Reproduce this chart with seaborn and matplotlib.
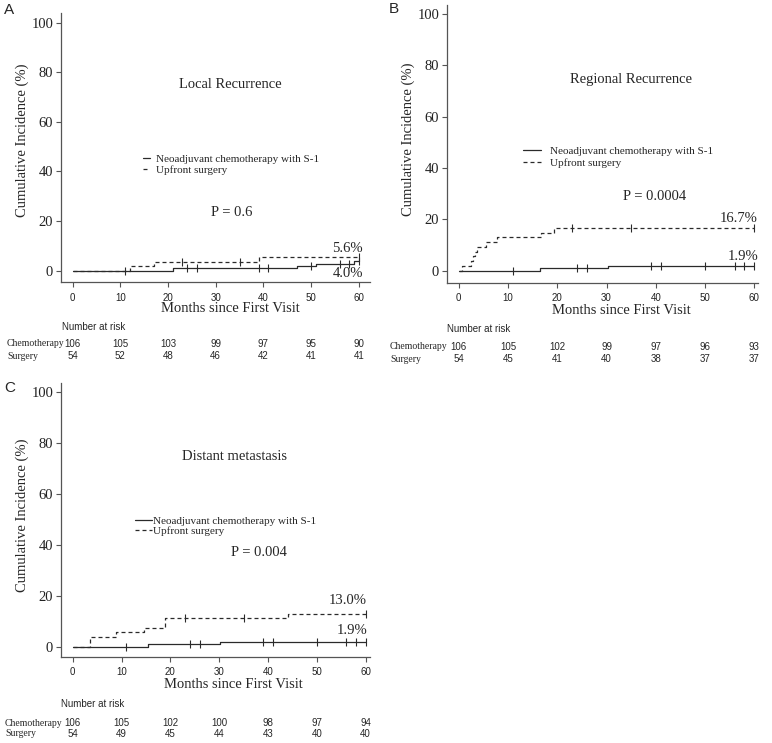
import numpy as np
import matplotlib
matplotlib.use("Agg")
import matplotlib.pyplot as plt
import matplotlib.transforms as mtransforms
from matplotlib.lines import Line2D
import seaborn as sns

# ---- data ----
month_ticks = [0, 10, 20, 30, 40, 50, 60]
pct_ticks = [0, 20, 40, 60, 80, 100]
risk_months = [0, 10, 20, 30, 40, 50, 60]

chemo_censor = [11, 24, 26, 39, 41, 50, 56, 58, 60]
surg_censor = [23, 35, 60]

# A: local recurrence
a_chemo_t = [0, 21, 47, 51, 59, 60]
a_chemo_y = [0, 0.9, 1.9, 2.9, 4.0, 4.0]
a_surg_t = [0, 12, 17, 39, 60]
a_surg_y = [0, 1.9, 3.7, 5.6, 5.6]
a_risk_chemo = [106, 105, 103, 99, 97, 95, 90]
a_risk_surg = [54, 52, 48, 46, 42, 41, 41]

# B: regional recurrence
b_chemo_t = [0, 16.6, 30.3, 60]
b_chemo_y = [0, 0.94, 1.9, 1.9]
b_surg_t = [0, 0.6, 2.5, 3.0, 3.4, 3.8, 5.5, 7.8, 16.8, 19.4, 60]
b_surg_y = [0, 1.9, 3.7, 5.6, 7.4, 9.3, 11.1, 13.0, 14.8, 16.7, 16.7]
b_risk_chemo = [106, 105, 102, 99, 97, 96, 93]
b_risk_surg = [54, 45, 41, 40, 38, 37, 37]

# C: distant metastasis
c_chemo_t = [0, 15.4, 30.2, 60]
c_chemo_y = [0, 0.94, 1.9, 1.9]
c_surg_t = [0, 3.6, 8.9, 14.7, 18.9, 44.1, 60]
c_surg_y = [0, 3.7, 5.6, 7.4, 11.1, 13.0, 13.0]
c_risk_chemo = [106, 105, 102, 100, 98, 97, 94]
c_risk_surg = [54, 49, 45, 44, 43, 40, 40]

legend_labels = ["Neoadjuvant chemotherapy with S-1", "Upfront surgery"]
row_labels = ["Chemotherapy", "Surgery"]

# ---- style ----
sns.set_style("ticks")
SERIF = ["Liberation Serif", "DejaVu Serif"]
SANS = ["Liberation Sans", "DejaVu Sans"]
plt.rcParams["font.family"] = SERIF
LINE = "#2a2a2a"
AXC = "#555555"
DASH = (0, (3.2, 2.4))

W, H = 772, 743
fig = plt.figure(figsize=(W / 100, H / 100), dpi=100)


def fx(x):
    return x / W


def fy(y):
    return 1 - y / H


panels = [
    dict(letter="A", title="Local Recurrence", p="P = 0.6",
         ct=a_chemo_t, cy=a_chemo_y, st=a_surg_t, sy=a_surg_y,
         rc=a_risk_chemo, rs=a_risk_surg,
         box=(61, 370, 13, 282), x0=72.7, xs=4.767, y0=270.7, ys=2.48,
         letter_xy=(4, 10), title_xy=(230, 85), p_xy=(232, 212),
         leg_xy=(143, 154), leg_hl=0.65, leg_pad=0.5, leg_sp=0.15,
         s_lab=("5.6%", 363, 248), c_lab=("4.0%", 363, 273),
         ylab_xy=(22, 140), xlab_xy=(230, 308), nar_xy=(62, 327),
         row_y=(344, 356), row_x=7),
    dict(letter="B", title="Regional Recurrence", p="P = 0.0004",
         ct=b_chemo_t, cy=b_chemo_y, st=b_surg_t, sy=b_surg_y,
         rc=b_risk_chemo, rs=b_risk_surg,
         box=(447, 757.7, 5, 282.7), x0=458.7, xs=4.927, y0=270.7, ys=2.567,
         letter_xy=(389, 9), title_xy=(631, 79), p_xy=(655, 196),
         leg_xy=(523, 146), leg_hl=1.6, leg_pad=0.8, leg_sp=0.25,
         s_lab=("16.7%", 758, 219), c_lab=("1.9%", 758, 256),
         ylab_xy=(408, 139), xlab_xy=(621, 310), nar_xy=(447, 329),
         row_y=(347, 359), row_x=390),
    dict(letter="C", title="Distant metastasis", p="P = 0.004",
         ct=c_chemo_t, cy=c_chemo_y, st=c_surg_t, sy=c_surg_y,
         rc=c_risk_chemo, rs=c_risk_surg,
         box=(61, 370, 383, 656.7), x0=72.7, xs=4.883, y0=646.7, ys=2.544,
         letter_xy=(4, 388), title_xy=(234, 457), p_xy=(259, 552),
         leg_xy=(135, 516), leg_hl=1.5, leg_pad=0.1, leg_sp=0.05,
         s_lab=("13.0%", 367, 600), c_lab=("1.9%", 367, 630),
         ylab_xy=(22, 515), xlab_xy=(233, 685), nar_xy=(61, 704),
         row_y=(723, 734), row_x=5),
]


def censor_y(t, y, times):
    idx = np.searchsorted(t, times, side="right") - 1
    return np.asarray(y)[idx]


for p in panels:
    left, right, top, bottom = p["box"]
    ax = fig.add_axes([fx(left), fy(bottom), (right - left) / W, (bottom - top) / H])
    ax.set_xlim((left - p["x0"]) / p["xs"], (right - p["x0"]) / p["xs"])
    ax.set_ylim((p["y0"] - bottom) / p["ys"], (p["y0"] - top) / p["ys"])

    sns.lineplot(x=p["ct"], y=p["cy"], drawstyle="steps-post", color=LINE,
                 lw=0.9, estimator=None, errorbar=None, ax=ax)
    sns.lineplot(x=p["st"], y=p["sy"], drawstyle="steps-post", color=LINE,
                 lw=0.9, linestyle=DASH, estimator=None, errorbar=None, ax=ax)
    sns.scatterplot(x=chemo_censor, y=censor_y(p["ct"], p["cy"], chemo_censor),
                    marker="|", s=40, color=LINE, linewidth=0.8, ax=ax)
    sns.scatterplot(x=surg_censor, y=censor_y(p["st"], p["sy"], surg_censor),
                    marker="|", s=40, color=LINE, linewidth=0.8, ax=ax)

    ax.set_xticks(month_ticks)
    ax.set_yticks(pct_ticks)
    ax.set_xlabel("")
    ax.set_ylabel("")
    for side in ["top", "right"]:
        ax.spines[side].set_visible(False)
    for side in ["left", "bottom"]:
        ax.spines[side].set_color(AXC)
        ax.spines[side].set_linewidth(0.9)
    ax.tick_params(axis="both", direction="out", length=3.6, width=0.8, color=AXC)
    ax.tick_params(axis="y", labelsize=10.5, pad=2, labelcolor="#222222")
    ax.tick_params(axis="x", labelsize=7, pad=4, labelcolor="#222222")
    for lab in ax.get_xticklabels():
        lab.set_family(SANS)

    # texts
    fig.text(fx(p["letter_xy"][0]), fy(p["letter_xy"][1]), p["letter"],
             family=SANS, fontsize=11, ha="left", va="center")
    fig.text(fx(p["title_xy"][0]), fy(p["title_xy"][1]), p["title"],
             fontsize=10.5, ha="center", va="center")
    fig.text(fx(p["p_xy"][0]), fy(p["p_xy"][1]), p["p"],
             fontsize=10.5, ha="center", va="center")
    for lab, xr, yc in [p["s_lab"], p["c_lab"]]:
        fig.text(fx(xr), fy(yc), lab, fontsize=10.5, ha="right", va="center")
    fig.text(fx(p["ylab_xy"][0]), fy(p["ylab_xy"][1]), "Cumulative Incidence (%)",
             fontsize=10.5, rotation=90, ha="center", va="center")
    fig.text(fx(p["xlab_xy"][0]), fy(p["xlab_xy"][1]), "Months since First Visit",
             fontsize=10.5, ha="center", va="center")
    fig.text(fx(p["nar_xy"][0]), fy(p["nar_xy"][1]), "Number at risk",
             family=SANS, fontsize=7, ha="left", va="center")

    handles = [Line2D([], [], color=LINE, lw=0.9),
               Line2D([], [], color=LINE, lw=0.9, linestyle=DASH)]
    ax.legend(handles, legend_labels, loc="upper left",
              bbox_to_anchor=(fx(p["leg_xy"][0]), fy(p["leg_xy"][1])),
              bbox_transform=fig.transFigure, frameon=False, fontsize=8,
              borderpad=0, borderaxespad=0, handlelength=p["leg_hl"],
              handletextpad=p["leg_pad"], labelspacing=p["leg_sp"])

    # number at risk table
    trans = mtransforms.blended_transform_factory(ax.transData, fig.transFigure)
    for name, counts, yy in zip(row_labels, [p["rc"], p["rs"]], p["row_y"]):
        fig.text(fx(p["row_x"]), fy(yy), name, fontsize=7, ha="left", va="center")
        for m, n in zip(risk_months, counts):
            ax.text(m, fy(yy), str(n), transform=trans, family=SANS, fontsize=7,
                    ha="center", va="center", clip_on=False)

fig.savefig("out.png", dpi=100)
